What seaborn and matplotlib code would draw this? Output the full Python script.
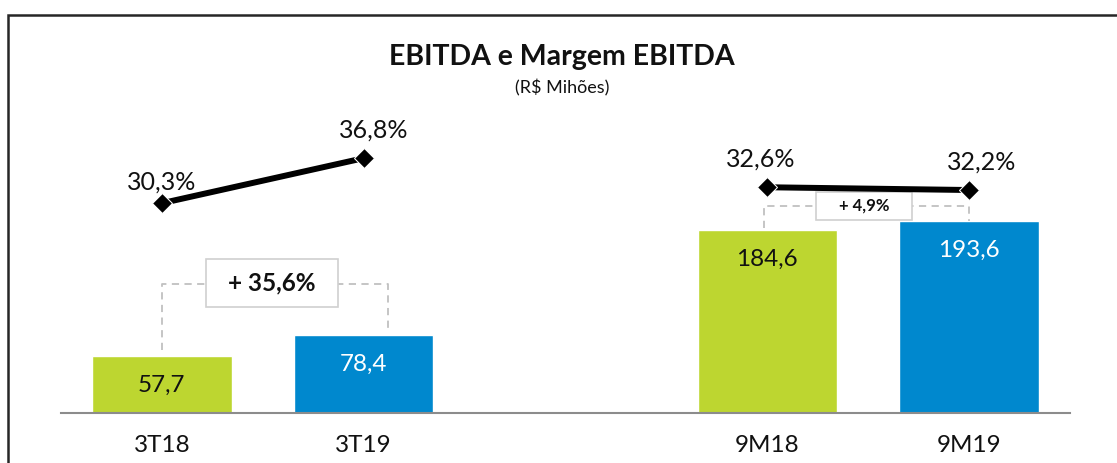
import pandas as pd
import seaborn as sns
import matplotlib.pyplot as plt
from matplotlib.patches import Rectangle
import numpy as np

# dados (R$ milhões e margem %)
periods = ['3T18', '3T19', '9M18', '9M19']
slots = ['3T18', '3T19', ' ', '9M18', '9M19']
ebitda = [57.7, 78.4, 184.6, 193.6]
margin = [30.3, 36.8, 32.6, 32.2]
growth = ['+ 35,6%', '+ 4,9%']

green = '#BDD630'
blue = '#0088CE'
palette = {'3T18': green, '3T19': blue, '9M18': green, '9M19': blue}


def br(v, suffix=''):
    return f'{v:.1f}'.replace('.', ',') + suffix


sns.set_style('white')
plt.rcParams['font.family'] = ['Lato', 'DejaVu Sans']

fig = plt.figure(figsize=(11.17, 4.63), dpi=100)
ax = fig.add_axes([61 / 1117, 50 / 463, (1070 - 61) / 1117, 313 / 463])

df = pd.DataFrame({'periodo': periods, 'ebitda': ebitda})
sns.barplot(data=df, x='periodo', y='ebitda', hue='periodo', order=slots,
            palette=palette, width=0.69, saturation=1, legend=False, ax=ax)
ax.set_ylim(0, 316)
ax.set_xlim(-0.5, 4.5)
pos = {c: i for i, c in enumerate(slots)}

# rótulos das barras
for p, v in zip(periods, ebitda):
    ax.annotate(br(v), (pos[p], v), xytext=(0, -21), textcoords='offset points',
                ha='center', va='center', fontsize=17.5,
                color='white' if palette[p] == blue else '#111111')

# eixo x estilo excel
ax.set_xticks(np.arange(-0.5, 5, 1))
ax.set_xticklabels([''] * 6)
ax.set_xticks(range(5), minor=True)
ax.set_xticklabels(slots, minor=True, fontsize=17.5, color='#111111')
ax.tick_params(axis='x', which='major', length=6, width=1.3, color='#8c8c8c', direction='out')
ax.tick_params(axis='x', which='minor', length=0, pad=16)
ax.set_yticks([])
ax.set_xlabel('')
ax.set_ylabel('')
for s in ['left', 'top', 'right']:
    ax.spines[s].set_visible(False)
ax.spines['bottom'].set_color('#8c8c8c')
ax.spines['bottom'].set_linewidth(1.5)

# conectores tracejados + caixas de crescimento
dash = dict(color='#c0c0c0', lw=1.3, ls=(0, (4, 3)), zorder=1)
ax.plot([0, 0, 1.12, 1.12], [64, 130, 130, 82], **dash)
ax.plot([2.985, 2.985, 4.0, 4.0], [187, 209, 209, 193.6], **dash)
ax.add_patch(Rectangle((0.218, 107), 0.653, 48.6, fc='white', ec='#d0d0d0', lw=1.2, zorder=2))
ax.add_patch(Rectangle((3.243, 195), 0.475, 28, fc='white', ec='#d0d0d0', lw=1.2, zorder=2))
ax.text(0.545, 131, growth[0], ha='center', va='center', fontsize=17.5, fontweight='bold',
        color='#111111', zorder=3)
ax.text(3.48, 209, growth[1], ha='center', va='center', fontsize=12, fontweight='bold',
        color='#111111', zorder=3)

# margem EBITDA
ax2 = ax.twinx()
for g in [(0, 1), (2, 3)]:
    sns.lineplot(x=[pos[periods[i]] for i in g], y=[margin[i] for i in g], ax=ax2,
                 color='black', lw=4.3, marker='D', markersize=10, clip_on=False)
ax2.set_ylim(0, 45.2)
ax2.set_yticks([])
ax2.set_ylabel('')
for s in ['left', 'top', 'right', 'bottom']:
    ax2.spines[s].set_visible(False)

offsets = [(0, 15), (7, 20), (-5, 20), (9, 20)]
for p, m, off in zip(periods, margin, offsets):
    ax2.annotate(br(m, '%'), (pos[p], m), xytext=off, textcoords='offset points',
                 ha='center', va='center', fontsize=18, color='#111111')

fig.text(562 / 1117, 1 - 57 / 463, 'EBITDA e Margem EBITDA', ha='center', va='center',
         fontsize=20.5, fontweight='bold', color='#111111')
fig.text(562 / 1117, 1 - 88 / 463, '(R$ Mihões)', ha='center', va='center', fontsize=13,
         color='#111111')

# moldura
fig.add_artist(Rectangle((8 / 1117, -1), 5, 2 - 15 / 463, transform=fig.transFigure,
                         fill=False, ec='#262626', lw=1.8))

fig.savefig('out.png', dpi=100)
